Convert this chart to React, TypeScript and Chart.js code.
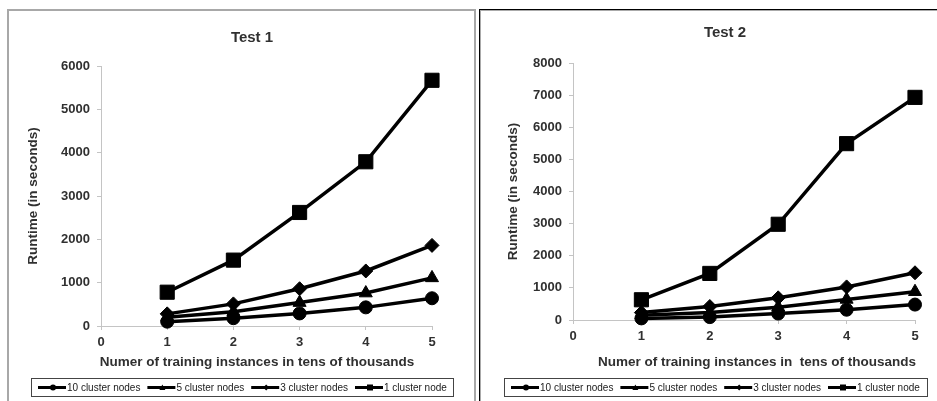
import React, { useEffect, useRef } from 'react';
import { Chart, registerables } from 'chart.js';

Chart.register(...registerables);

const FONT = '"Liberation Sans", Arial, Helvetica, sans-serif';

// ---- data ----
const xValues = [1, 2, 3, 4, 5];
const xTicks = [0, 1, 2, 3, 4, 5];
const seriesLabels = ['10 cluster nodes', '5 cluster nodes', '3 cluster nodes', '1 cluster node'];
const pointStyles = ['circle', 'triangle', 'rectRot', 'rect'];
const pointRadii = [6.5, 7.5, 7, 10];

const test1Nodes10 = [100, 180, 290, 430, 640];
const test1Nodes5 = [200, 330, 540, 760, 1110];
const test1Nodes3 = [280, 510, 860, 1270, 1860];
const test1Nodes1 = [780, 1520, 2620, 3790, 5670];
const test1YTicks = [0, 1000, 2000, 3000, 4000, 5000, 6000];

const test2Nodes10 = [50, 90, 200, 320, 480];
const test2Nodes5 = [150, 230, 400, 640, 880];
const test2Nodes3 = [230, 420, 690, 1030, 1470];
const test2Nodes1 = [630, 1450, 2980, 5490, 6930];
const test2YTicks = [0, 1000, 2000, 3000, 4000, 5000, 6000, 7000, 8000];

const TEXT = '#303030';
const AXIS = '#c4c4c4';

type PanelProps = {
  title: string;
  xTitle: string;
  series: number[][];
  yTicks: number[];
  width: number;
  height: number;
  left: number;
  top: number;
  padTop: number;
  padRight: number;
  padBottom: number;
  yTitlePad: number;
  titleX: number;
  titleY: number;
  xTitleX: number;
  xTitleY: number;
  legendBox: [number, number, number, number];
};

function drawMarker(ctx: CanvasRenderingContext2D, style: string, x: number, y: number, r: number) {
  ctx.beginPath();
  if (style === 'circle') {
    ctx.arc(x, y, r, 0, Math.PI * 2);
  } else if (style === 'triangle') {
    ctx.moveTo(x, y - r);
    ctx.lineTo(x + r, y + r * 0.8);
    ctx.lineTo(x - r, y + r * 0.8);
    ctx.closePath();
  } else if (style === 'rectRot') {
    ctx.moveTo(x, y - r);
    ctx.lineTo(x + r, y);
    ctx.lineTo(x, y + r);
    ctx.lineTo(x - r, y);
    ctx.closePath();
  } else {
    ctx.rect(x - r, y - r, r * 2, r * 2);
  }
  ctx.fillStyle = '#000';
  ctx.fill();
}

function Panel(p: PanelProps) {
  const ref = useRef<HTMLCanvasElement | null>(null);
  useEffect(() => {
    if (!ref.current) return;
    const decorations = {
      id: 'decorations',
      afterDraw(chart: Chart) {
        const ctx = chart.ctx;
        ctx.save();
        ctx.fillStyle = TEXT;
        ctx.textAlign = 'center';
        ctx.textBaseline = 'middle';
        ctx.font = `bold 15px ${FONT}`;
        ctx.fillText(p.title, p.titleX, p.titleY);
        ctx.font = `bold 13.5px ${FONT}`;
        ctx.fillText(p.xTitle, p.xTitleX, p.xTitleY);

        const [lx, ly, lw, lh] = p.legendBox;
        ctx.strokeStyle = '#444';
        ctx.lineWidth = 1;
        ctx.strokeRect(lx + 0.5, ly + 0.5, lw, lh);
        ctx.font = `10px ${FONT}`;
        ctx.textAlign = 'left';
        const cy = ly + lh / 2 + 0.5;
        let x = lx + 7;
        seriesLabels.forEach((label, i) => {
          ctx.strokeStyle = '#000';
          ctx.lineWidth = 3;
          ctx.beginPath();
          ctx.moveTo(x, cy);
          ctx.lineTo(x + 28, cy);
          ctx.stroke();
          drawMarker(ctx, pointStyles[i], x + 15, cy, 3);
          ctx.fillStyle = '#1a1a1a';
          ctx.fillText(label, x + 29, cy + 0.5);
          x += 29 + ctx.measureText(label).width + 7;
        });
        ctx.restore();
      },
    };

    const chart = new Chart(ref.current, {
      type: 'line',
      data: {
        datasets: p.series.map((vals, i) => ({
          label: seriesLabels[i],
          data: xValues.map((x, j) => ({ x, y: vals[j] })),
          borderColor: '#000',
          backgroundColor: '#000',
          borderWidth: 3.5,
          pointStyle: pointStyles[i] as any,
          pointRadius: pointRadii[i],
          pointBackgroundColor: '#000',
          pointBorderColor: '#000',
          pointBorderWidth: 1,
          tension: 0,
          clip: false as any,
        })),
      },
      options: {
        animation: false,
        responsive: false,
        devicePixelRatio: 1,
        layout: { padding: { top: p.padTop, right: p.padRight, bottom: p.padBottom, left: 0 } },
        plugins: {
          legend: { display: false },
          title: { display: false },
          tooltip: { enabled: false },
        },
        scales: {
          x: {
            type: 'linear',
            min: 0,
            max: 5,
            afterBuildTicks: (s: any) => {
              s.ticks = xTicks.map((v) => ({ value: v }));
            },
            afterFit: (s: any) => {
              s.height = 45;
            },
            grid: { drawOnChartArea: false, drawTicks: true, tickLength: 4, color: AXIS },
            border: { color: AXIS, width: 1 },
            ticks: {
              color: TEXT,
              padding: 5,
              font: { family: FONT, size: 13, weight: 'bold' },
              callback: (v: any) => String(v),
            },
          },
          y: {
            type: 'linear',
            min: 0,
            max: p.yTicks[p.yTicks.length - 1],
            afterBuildTicks: (s: any) => {
              s.ticks = p.yTicks.map((v) => ({ value: v }));
            },
            afterFit: (s: any) => {
              s.width = 92;
            },
            grid: { drawOnChartArea: false, drawTicks: true, tickLength: 4, color: AXIS },
            border: { color: AXIS, width: 1 },
            ticks: {
              color: TEXT,
              padding: 7,
              font: { family: FONT, size: 13, weight: 'bold' },
              callback: (v: any) => String(v),
            },
            title: {
              display: true,
              text: 'Runtime (in seconds)',
              color: TEXT,
              padding: { top: p.yTitlePad, bottom: 0 },
              font: { family: FONT, size: 13.5, weight: 'bold' },
            },
          },
        },
      },
      plugins: [decorations],
    });
    return () => chart.destroy();
  }, []);
  return (
    <canvas
      ref={ref}
      width={p.width}
      height={p.height}
      style={{ position: 'absolute', left: p.left, top: p.top, width: p.width, height: p.height }}
    />
  );
}

export default function App() {
  return (
    <div style={{ position: 'absolute', left: 0, top: 0, width: 937, height: 401, overflow: 'hidden', background: '#fff' }}>
      <div
        style={{
          position: 'absolute',
          left: 7,
          top: 9,
          width: 469,
          height: 420,
          border: '2px solid #a8a8a8',
          boxSizing: 'border-box',
        }}
      />
      <div
        style={{
          position: 'absolute',
          left: 479,
          top: 9,
          width: 480,
          height: 420,
          borderTop: '1px solid #000',
          borderLeft: '1px solid #000',
          boxShadow: 'inset 1px 1px 0 #aaa',
          boxSizing: 'border-box',
        }}
      />
      <Panel
        title="Test 1"
        xTitle="Numer of training instances in tens of thousands"
        series={[test1Nodes10, test1Nodes5, test1Nodes3, test1Nodes1]}
        yTicks={test1YTicks}
        width={462}
        height={390}
        left={9}
        top={11}
        padTop={55}
        padRight={39}
        padBottom={30}
        yTitlePad={16}
        titleX={243}
        titleY={27}
        xTitleX={248}
        xTitleY={351}
        legendBox={[22, 367, 422, 18]}
      />
      <Panel
        title="Test 2"
        xTitle="Numer of training instances in  tens of thousands"
        series={[test2Nodes10, test2Nodes5, test2Nodes3, test2Nodes1]}
        yTicks={test2YTicks}
        width={456}
        height={390}
        left={481}
        top={11}
        padTop={52}
        padRight={22}
        padBottom={36}
        yTitlePad={24}
        titleX={244}
        titleY={22}
        xTitleX={276}
        xTitleY={351}
        legendBox={[23, 367, 423, 18]}
      />
    </div>
  );
}
